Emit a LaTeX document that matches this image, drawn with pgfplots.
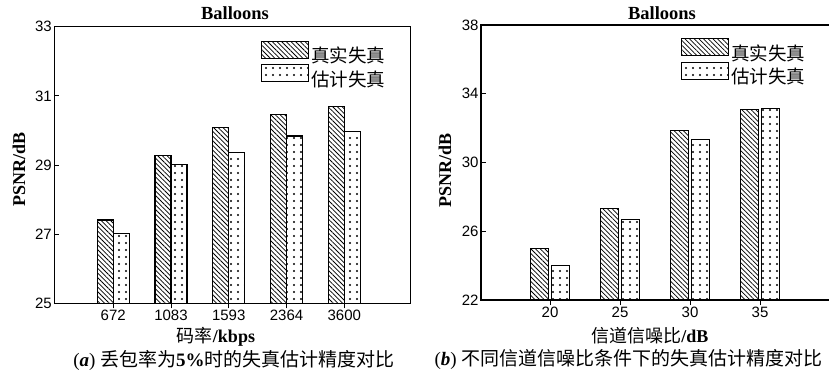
\documentclass[border=0pt]{standalone}
\usepackage{fontspec}
\usepackage{pgfplots}
\pgfplotsset{compat=1.18}
\usetikzlibrary{patterns.meta}
\setmainfont{Liberation Serif}
\newfontfamily\cjk{Noto Sans CJK SC}
\newfontfamily\tickfont{Liberation Sans}

% shared look of both panels
\pgfplotsset{
  psnrbars/.style={
    scale only axis,
    axis line style={line width=1.1pt},
    tick style={line width=0.9pt, black},
    major tick length=5pt,
    tick align=inside,
    xtick pos=bottom, ytick pos=left,
    xtick=data,
    /pgf/number format/assume math mode=true,
    tick label style={font=\fontsize{15}{15}\selectfont\tickfont},
    yticklabel style={xshift=1pt},
    xticklabel style={yshift=1.5pt},
    ylabel style={font=\fontsize{18}{18}\selectfont\bfseries, anchor=center, rotate=0},
    xlabel style={font=\fontsize{18}{18}\selectfont, anchor=center},
    legend style={draw=none, fill=none, inner sep=0pt, outer sep=0pt,
      row sep=0pt, font=\fontsize{18.5}{18.5}\selectfont\cjk,
      nodes={inner xsep=2.5pt, inner ysep=0pt}},
    legend cell align=left,
  },
  swatch/.style={legend image code/.code={%
      \draw[##1, line width=1pt] (0pt,-2.5pt) rectangle (47pt,14.5pt);}},
  truebar/.style={draw=black, line width=1.1pt,
    pattern={Lines[angle=-45, distance=3.3pt, line width=0.75pt]}, swatch},
  estbar/.style={draw=black, line width=1.1pt,
    pattern={Dots[distance=7pt, radius=1.2pt]}, swatch},
}

\begin{document}
\begin{tikzpicture}
\useasboundingbox (0pt,0pt) rectangle (829pt,376pt);

% (a) PSNR against bit rate, 5% packet loss
\begin{axis}[psnrbars,
  at={(54.3pt,72.7pt)}, anchor=south west,
  width=356.4pt, height=276.6pt,
  ybar=0pt, bar width=16pt,
  xmin=-1.02, xmax=5.15,
  ymin=25, ymax=33, ytick={25,27,29,31,33},
  xticklabels={672,1083,1593,2364,3600},
  ylabel={PSNR/dB}, ylabel style={at={(-0.099,0.4855)}},
  xlabel={{\cjk 码率}\textbf{/kbps}}, xlabel style={at={(0.4537,-0.1218)}},
  legend style={at={(0.579,0.949)}, anchor=north west},
]
\addplot[truebar] coordinates {(0,27.41) (1,29.27) (2,30.09) (3,30.46) (4,30.70)};
\addplot[estbar] coordinates {(0,27.02) (1,29.02) (2,29.37) (3,29.84) (4,29.98)};
\legend{真实失真,估计失真}
\end{axis}

% (b) PSNR against channel SNR
\begin{axis}[psnrbars,
  at={(481pt,76pt)}, anchor=south west,
  width=361pt, height=275pt,
  ybar=2.5pt, bar width=18pt,
  xmin=-0.986, xmax=4.17,
  ymin=22, ymax=38, ytick={22,26,30,34,38},
  xticklabels={20,25,30,35},
  ylabel={PSNR/dB}, ylabel style={at={(-0.0997,0.4727)}},
  xlabel={{\cjk 信道信噪比}\textbf{/dB}}, xlabel style={at={(0.468,-0.131)}},
  legend style={at={(0.553,0.953)}, anchor=north west},
]
\addplot[truebar] coordinates {(0,24.99) (1,27.32) (2,31.88) (3,33.10)};
\addplot[estbar] coordinates {(0,24.00) (1,26.70) (2,31.32) (3,33.16)};
\legend{真实失真,估计失真}
\end{axis}

% panel titles
\node[font=\fontsize{18.5}{18.5}\selectfont\bfseries] at (235pt,362.5pt) {Balloons};
\node[font=\fontsize{18.5}{18.5}\selectfont\bfseries] at (662pt,362.5pt) {Balloons};

% panel captions
\node[font=\fontsize{19}{19}\selectfont] at (234pt,16pt)
  {(\textbf{\textit{a}}) {\cjk 丢包率为}\textbf{5\%}{\cjk 时的失真估计精度对比}};
\node[font=\fontsize{19}{19}\selectfont] at (628.5pt,17pt)
  {(\textbf{\textit{b}}) {\cjk 不同信道信噪比条件下的失真估计精度对比}};
\end{tikzpicture}
\end{document}
